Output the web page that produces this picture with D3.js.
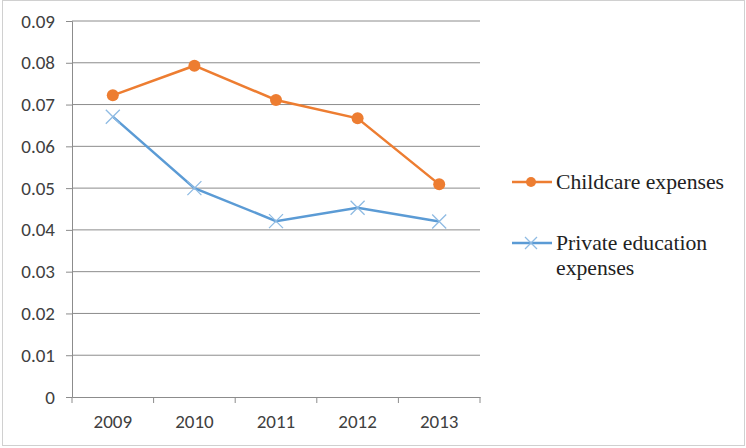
<!DOCTYPE html>
<html>
<head>
<meta charset="utf-8">
<script src="https://cdn.jsdelivr.net/npm/d3@7"></script>
<style>
  body { margin: 0; background: #fff; }
  svg { display: block; }
</style>
</head>
<body>
<svg width="746" height="448"></svg>
<script>
var years = ["2009", "2010", "2011", "2012", "2013"];
var childcare = [0.0722, 0.0793, 0.0711, 0.0667, 0.0509];
var privateEdu = [0.0671, 0.0500, 0.0421, 0.0453, 0.0420];
var yTicks = [0, 0.01, 0.02, 0.03, 0.04, 0.05, 0.06, 0.07, 0.08, 0.09];

var svg = d3.select("svg"),
    width = +svg.attr("width"),
    height = +svg.attr("height");

var orange = "#ed7d31", blue = "#5b9bd5";

svg.append("rect")
    .attr("x", 2.5).attr("y", 0.5)
    .attr("width", width - 4).attr("height", height - 3)
    .attr("fill", "#fff")
    .attr("stroke", "#d0d0d0");

var x = d3.scaleBand().domain(years).range([72, 480]);
var y = d3.scaleLinear().domain([0, 0.09]).range([397, 21]);

// gridlines
svg.append("g")
    .selectAll("line")
    .data(yTicks.slice(1))
    .enter().append("line")
    .attr("x1", 72).attr("x2", 480)
    .attr("y1", d => y(d)).attr("y2", d => y(d))
    .attr("stroke", "#8c8c8c")
    .attr("stroke-width", 1);

var yAxis = svg.append("g")
    .attr("transform", "translate(72,0)")
    .call(d3.axisLeft(y).tickValues(yTicks).tickSize(6).tickPadding(11)
        .tickFormat(d => d === 0 ? "0" : d3.format(".2f")(d)));
yAxis.select(".domain").attr("stroke", "#8c8c8c");
yAxis.selectAll(".tick line").attr("stroke", "#8c8c8c");
yAxis.selectAll("text")
    .attr("fill", "#404040")
    .style("font-family", "Carlito, 'Liberation Sans', sans-serif")
    .style("font-size", "19px");

var xAxis = svg.append("g")
    .attr("transform", "translate(0,397)")
    .call(d3.axisBottom(x).tickSize(0).tickPadding(18));
xAxis.select(".domain").attr("stroke", "#8c8c8c");
xAxis.selectAll("text")
    .attr("fill", "#404040")
    .style("font-family", "Carlito, 'Liberation Sans', sans-serif")
    .style("font-size", "19px");
// category boundary ticks
svg.append("g")
    .selectAll("line")
    .data(years.concat(["end"]))
    .enter().append("line")
    .attr("x1", (d, i) => i < years.length ? x(d) : x.range()[1])
    .attr("x2", (d, i) => i < years.length ? x(d) : x.range()[1])
    .attr("y1", 397).attr("y2", 403)
    .attr("stroke", "#8c8c8c");

var cx = d => x(d) + x.bandwidth() / 2;
var line = d3.line().x(d => cx(d.year)).y(d => y(d.v));

var childData = years.map((yr, i) => ({ year: yr, v: childcare[i] }));
var eduData = years.map((yr, i) => ({ year: yr, v: privateEdu[i] }));

svg.append("path")
    .datum(eduData)
    .attr("fill", "none")
    .attr("stroke", blue)
    .attr("stroke-width", 2.5)
    .attr("d", line);

function cross(g, px, py, s) {
    g.append("path")
        .attr("d", "M" + (px - s) + "," + (py - s) + "L" + (px + s) + "," + (py + s) +
            "M" + (px - s) + "," + (py + s) + "L" + (px + s) + "," + (py - s))
        .attr("stroke", "#8fbbe3")
        .attr("stroke-width", 1.3)
        .attr("fill", "none");
}
var crosses = svg.append("g");
eduData.forEach(d => cross(crosses, cx(d.year), y(d.v), 7));

svg.append("path")
    .datum(childData)
    .attr("fill", "none")
    .attr("stroke", orange)
    .attr("stroke-width", 2.5)
    .attr("d", line);

svg.append("g")
    .selectAll("circle")
    .data(childData)
    .enter().append("circle")
    .attr("cx", d => cx(d.year))
    .attr("cy", d => y(d.v))
    .attr("r", 6)
    .attr("fill", orange);

// legend
var legend = svg.append("g")
    .style("font-family", "'Liberation Serif', 'Times New Roman', 'DejaVu Serif', serif")
    .style("font-size", "21.7px").attr("fill", "#222");

legend.append("line").attr("x1", 512).attr("x2", 552).attr("y1", 182).attr("y2", 182)
    .attr("stroke", orange).attr("stroke-width", 2.5);
legend.append("circle").attr("cx", 531).attr("cy", 182).attr("r", 5).attr("fill", orange);
legend.append("text").attr("x", 556).attr("y", 189).text("Childcare expenses");

legend.append("line").attr("x1", 512).attr("x2", 552).attr("y1", 243).attr("y2", 243)
    .attr("stroke", blue).attr("stroke-width", 2.5);
cross(legend, 531, 243, 6);
legend.append("text").attr("x", 556).attr("y", 250).text("Private education");
legend.append("text").attr("x", 556).attr("y", 275).text("expenses");
</script>
</body>
</html>
